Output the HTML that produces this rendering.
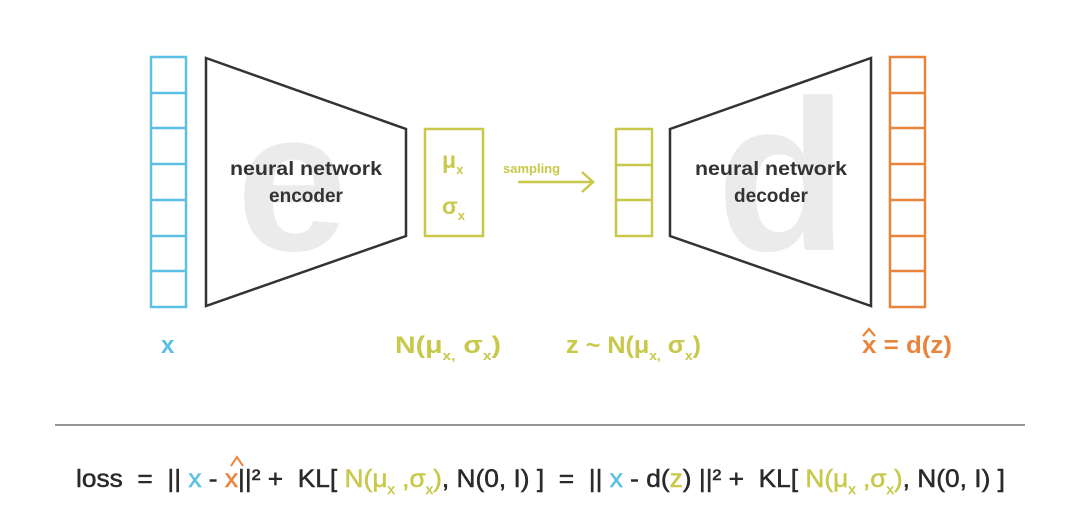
<!DOCTYPE html>
<html><head><meta charset="utf-8"><style>
html,body{margin:0;padding:0;background:#fff;}
svg{display:block;font-family:"Liberation Sans",sans-serif;}
text{white-space:pre;}
</style></head><body>
<svg width="1080" height="524" viewBox="0 0 1080 524" xmlns="http://www.w3.org/2000/svg" xml:space="preserve">
<rect width="1080" height="524" fill="#fff"/>
<text x="292" y="250" font-size="200" font-weight="bold" fill="#ebebeb" text-anchor="middle">e</text>
<text x="782" y="250" font-size="215" font-weight="bold" fill="#ebebeb" text-anchor="middle">d</text>
<g fill="none" stroke="#5bbfe6" stroke-width="2.5">
<rect x="151" y="57" width="35" height="250"/>
<line x1="151" y1="93" x2="186" y2="93"/><line x1="151" y1="128" x2="186" y2="128"/>
<line x1="151" y1="164" x2="186" y2="164"/><line x1="151" y1="200" x2="186" y2="200"/>
<line x1="151" y1="236" x2="186" y2="236"/><line x1="151" y1="271" x2="186" y2="271"/>
</g>
<g fill="none" stroke="#e8843c" stroke-width="2.5">
<rect x="890" y="57" width="35" height="250"/>
<line x1="890" y1="93" x2="925" y2="93"/><line x1="890" y1="128" x2="925" y2="128"/>
<line x1="890" y1="164" x2="925" y2="164"/><line x1="890" y1="200" x2="925" y2="200"/>
<line x1="890" y1="236" x2="925" y2="236"/><line x1="890" y1="271" x2="925" y2="271"/>
</g>
<polygon points="206,58 406,129 406,236 206,306" fill="none" stroke="#333" stroke-width="2.5"/>
<polygon points="670,129 871,58 871,306 670,236" fill="none" stroke="#333" stroke-width="2.5"/>
<text x="306" y="175" font-size="19" font-weight="bold" fill="#333" text-anchor="middle" textLength="152" lengthAdjust="spacingAndGlyphs">neural network</text>
<text x="306" y="202" font-size="19" font-weight="bold" fill="#333" text-anchor="middle">encoder</text>
<text x="771" y="175" font-size="19" font-weight="bold" fill="#333" text-anchor="middle" textLength="152" lengthAdjust="spacingAndGlyphs">neural network</text>
<text x="771" y="202" font-size="19" font-weight="bold" fill="#333" text-anchor="middle">decoder</text>
<g fill="none" stroke="#c8c84a" stroke-width="2.5">
<rect x="425" y="129" width="58" height="107"/>
<rect x="616" y="129" width="36" height="107"/>
<line x1="616" y1="165" x2="652" y2="165"/><line x1="616" y1="200" x2="652" y2="200"/>
<line x1="518" y1="182" x2="592" y2="182"/>
<polyline points="582,172 593,182 582,192"/>
</g>
<g fill="#c8c84a" font-weight="bold">
<text x="442" y="168" font-size="23">μ<tspan font-size="13" dy="6">x</tspan></text>
<text x="442" y="214" font-size="23">σ<tspan font-size="13" dy="6">x</tspan></text>
<text x="503" y="173" font-size="13">sampling</text>
<text x="395" y="353" font-size="24" textLength="106" lengthAdjust="spacingAndGlyphs">N(μ<tspan font-size="13" dy="7">x,</tspan><tspan dy="-7"> σ</tspan><tspan font-size="13" dy="7">x</tspan><tspan dy="-7">)</tspan></text>
<text x="566" y="353" font-size="24" textLength="135" lengthAdjust="spacingAndGlyphs">z ~ N(μ<tspan font-size="13" dy="7">x,</tspan><tspan dy="-7"> σ</tspan><tspan font-size="13" dy="7">x</tspan><tspan dy="-7">)</tspan></text>
</g>
<text x="161" y="353" font-size="24" font-weight="bold" fill="#5bbfe6">x</text>
<text x="862" y="353" font-size="24" font-weight="bold" fill="#e8843c" textLength="90" lengthAdjust="spacingAndGlyphs">x = d(z)</text>
<path d="M863,336 L869,329 L875,336" fill="none" stroke="#e8843c" stroke-width="2.2"/>
<line x1="55" y1="425" x2="1025" y2="425" stroke="#555" stroke-width="1.2"/>
<text x="76" y="487" font-size="25" fill="#2a2a2a" stroke="#2a2a2a" stroke-width="0.5" textLength="929" lengthAdjust="spacingAndGlyphs">loss  =  || <tspan fill="#5bbfe6" stroke="#5bbfe6">x</tspan> - <tspan fill="#e8843c" stroke="#e8843c">x</tspan>||² +  KL[ <tspan fill="#c8c84a" stroke="#c8c84a">N(μ<tspan font-size="14" dy="7">x</tspan><tspan dy="-7"> ,σ</tspan><tspan font-size="14" dy="7">x</tspan><tspan dy="-7">)</tspan></tspan>, N(0, I) ]  =  || <tspan fill="#5bbfe6" stroke="#5bbfe6">x</tspan> - d(<tspan fill="#c8c84a" stroke="#c8c84a">z</tspan>) ||² +  KL[ <tspan fill="#c8c84a" stroke="#c8c84a">N(μ<tspan font-size="14" dy="7">x</tspan><tspan dy="-7"> ,σ</tspan><tspan font-size="14" dy="7">x</tspan><tspan dy="-7">)</tspan></tspan>, N(0, I) ]</text>
<path d="M231,466 L237,457 L243,466" fill="none" stroke="#e8843c" stroke-width="2"/>
</svg>
</body></html>
